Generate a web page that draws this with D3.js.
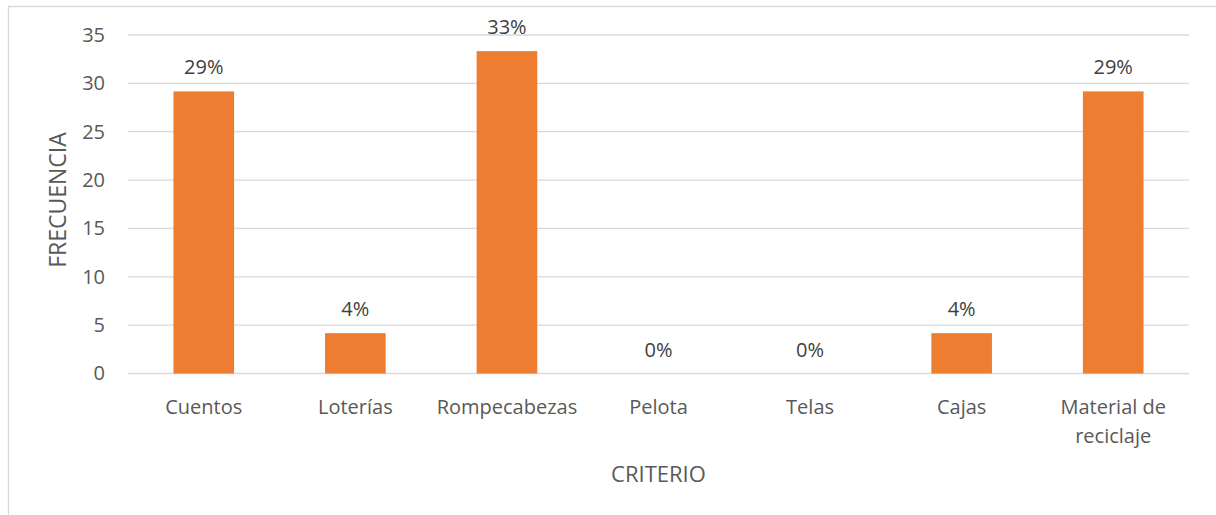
<!DOCTYPE html>
<html lang="es">
<head>
    <meta charset="UTF-8">
    <title>Criterio</title>
    <style>
        body { margin: 0; background: #fff; }
        svg { display: block; font-family: "Open Sans", sans-serif; }
    </style>
    <script src="https://d3js.org/d3.v7.min.js"></script>
</head>
<body>
    <div id="chart"></div>
    <script>
        const categories = ["Cuentos", "Loterías", "Rompecabezas", "Pelota", "Telas", "Cajas", "Material de reciclaje"];
        const values = [29.17, 4.17, 33.33, 0, 0, 4.17, 29.17];
        const labels = ["29%", "4%", "33%", "0%", "0%", "4%", "29%"];
        const yTicks = [0, 5, 10, 15, 20, 25, 30, 35];

        const data = categories.map((c, i) => ({ name: c, value: values[i], label: labels[i] }));

        const boxWidth = 1216, boxHeight = 515;
        const margin = { top: 35, right: 27, bottom: 141.5, left: 128 };
        const innerWidth = boxWidth - margin.left - margin.right;
        const innerHeight = boxHeight - margin.top - margin.bottom;
        const textColor = "#595959";

        const svg = d3.select("#chart").append("svg")
            .attr("width", boxWidth).attr("height", boxHeight);

        // chart frame (only top and left edges are inside the picture)
        svg.append("path")
            .attr("d", `M8.5,${boxHeight} V6.5 H${boxWidth}`)
            .attr("fill", "none").attr("stroke", "#d9d9d9").attr("stroke-width", 1.3);

        const g = svg.append("g").attr("transform", `translate(${margin.left}, ${margin.top})`);

        const xScale = d3.scaleBand()
            .domain(categories)
            .range([0, innerWidth])
            .paddingInner(0.6)
            .paddingOuter(0.3);

        const yScale = d3.scaleLinear()
            .domain([0, 35])
            .range([innerHeight, 0]);

        // gridlines
        g.selectAll(".grid").data(yTicks).enter().append("line")
            .attr("class", "grid")
            .attr("x1", 0).attr("x2", innerWidth)
            .attr("y1", d => yScale(d)).attr("y2", d => yScale(d))
            .attr("stroke", "#d9d9d9").attr("stroke-width", 1.3);

        const yAxis = d3.axisLeft(yScale).tickValues(yTicks).tickSize(0).tickPadding(23);
        const yG = g.append("g").call(yAxis);
        yG.select(".domain").remove();
        yG.selectAll("text").attr("fill", textColor).style("font-size", "20px").style("font-family", "Open Sans");

        const xAxis = d3.axisBottom(xScale).tickSize(0).tickPadding(26);
        const xG = g.append("g").attr("transform", `translate(0, ${innerHeight})`).call(xAxis);
        xG.select(".domain").remove();
        xG.selectAll("text").attr("fill", textColor).style("font-size", "20px").style("font-family", "Open Sans")
            .each(function (d) {
                const t = d3.select(this);
                if (d === "Material de reciclaje") {
                    t.text(null);
                    t.append("tspan").attr("x", 0).text("Material de");
                    t.append("tspan").attr("x", 0).attr("dy", "1.45em").text("reciclaje");
                }
            });

        g.selectAll(".bar").data(data).enter().append("rect")
            .attr("class", "bar")
            .attr("x", d => xScale(d.name))
            .attr("y", d => yScale(d.value))
            .attr("width", xScale.bandwidth())
            .attr("height", d => innerHeight - yScale(d.value))
            .attr("fill", "#ed7d31");

        g.selectAll(".lbl").data(data).enter().append("text")
            .attr("class", "lbl")
            .attr("x", d => xScale(d.name) + xScale.bandwidth() / 2)
            .attr("y", d => yScale(d.value) - 24)
            .attr("dy", "0.35em")
            .attr("text-anchor", "middle")
            .attr("fill", "#404040")
            .style("font-size", "20px")
            .text(d => d.label);

        svg.append("text")
            .attr("x", margin.left + innerWidth / 2)
            .attr("y", 474).attr("dy", "0.35em")
            .attr("text-anchor", "middle")
            .attr("fill", textColor)
            .style("font-size", "22px")
            .text("CRITERIO");

        svg.append("text")
            .attr("transform", "translate(58, 200) rotate(-90)")
            .attr("dy", "0.35em")
            .attr("text-anchor", "middle")
            .attr("fill", textColor)
            .style("font-size", "23px")
            .text("FRECUENCIA");
    </script>
</body>
</html>
